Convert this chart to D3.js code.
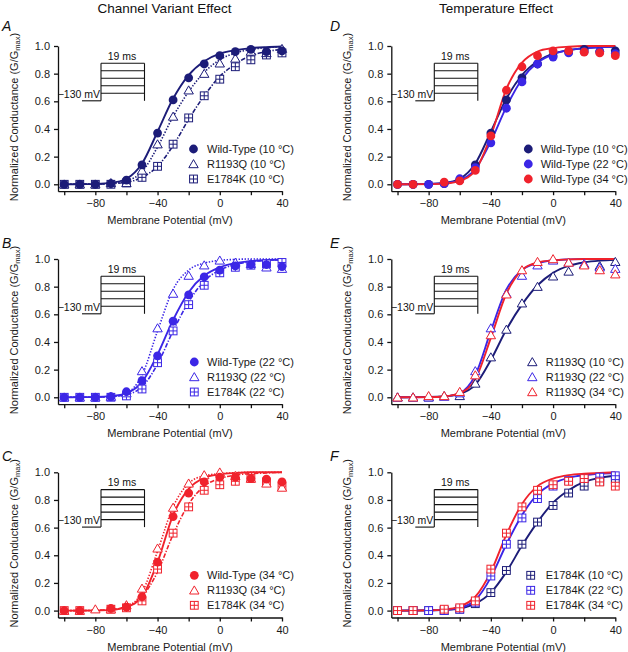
<!DOCTYPE html>
<html><head><meta charset="utf-8">
<script src="https://cdn.jsdelivr.net/npm/d3@7/dist/d3.min.js"></script>
<style>
html,body{margin:0;padding:0;background:#fff;}
svg{display:block;font-family:"Liberation Sans",Arial,Helvetica,sans-serif;}
</style></head>
<body><svg id="chart" width="628" height="652"></svg>
<script>
// ---------- DATA ----------
const voltages = [-100,-90,-80,-70,-60,-50,-40,-30,-20,-10,0,10,20,30,40];
const xTicks = [-100,-80,-60,-40,-20,0,20,40];
const xTickLabels = [-80,-40,0,40];
const yTicks = [0,0.2,0.4,0.6,0.8,1.0];

// measured normalized conductance
const wt10 = [0,0,0,0.005,0.03,0.14,0.37,0.61,0.77,0.87,0.93,0.96,0.975,0.96,0.965];
const r10  = [0,0,0,0.01,0.01,0.10,0.29,0.49,0.68,0.80,0.875,0.91,0.96,0.95,0.98];
const e10  = [0,0,0,0,0.01,0.05,0.13,0.29,0.48,0.64,0.76,0.85,0.90,0.935,0.95];
const wt22 = [0,0,0,0.005,0.04,0.12,0.30,0.55,0.74,0.87,0.92,0.95,0.96,0.96,0.945];
const r22  = [0,0,0,0.005,0.03,0.19,0.50,0.75,0.88,0.955,0.99,0.975,0.965,0.94,0.93];
const e22  = [0,0,0,0,0.01,0.06,0.25,0.48,0.67,0.81,0.90,0.94,0.955,0.965,0.975];
const wt34 = [0,0,null,0.015,0.025,0.10,0.35,0.68,0.85,0.93,0.965,0.965,0.955,0.95,0.93];
const r34  = [0,0,0.01,0.01,0.04,0.16,0.45,0.745,0.92,0.98,1.0,0.975,0.955,0.92,0.89];
const e34  = [0,0,null,0.01,0.02,0.07,0.30,0.56,0.75,0.87,0.91,0.935,0.955,0.93,0.90];

// fitted curves at the same voltages
const fitWt10 = [0,0.001,0.003,0.01,0.04,0.15,0.38,0.62,0.79,0.89,0.945,0.97,0.985,0.992,0.996];
const fitR10  = [0,0.001,0.002,0.007,0.025,0.09,0.27,0.49,0.67,0.81,0.90,0.95,0.975,0.988,0.994];
const fitE10  = [0,0.001,0.002,0.005,0.015,0.05,0.13,0.28,0.47,0.64,0.78,0.87,0.93,0.96,0.975];
const fitWt22 = [0,0.001,0.002,0.008,0.03,0.11,0.31,0.56,0.76,0.88,0.94,0.97,0.985,0.992,0.996];
const fitR22  = [0,0,0.001,0.005,0.03,0.16,0.48,0.78,0.92,0.97,0.99,0.997,1,1,1];
const fitE22  = [0,0,0.001,0.005,0.02,0.075,0.24,0.48,0.69,0.84,0.92,0.96,0.98,0.99,0.995];
const fitWt34 = [0,0,0.001,0.005,0.025,0.10,0.35,0.69,0.88,0.96,0.985,0.995,1,1,1];
const fitR34  = [0,0,0.001,0.006,0.03,0.13,0.43,0.75,0.92,0.975,0.99,0.997,1,1,1];
const fitE34  = [0,0,0.002,0.007,0.03,0.10,0.28,0.55,0.77,0.90,0.955,0.98,0.99,0.995,1];

const columnTitles = ["Channel Variant Effect","Temperature Effect"];
const panelLetters = ["A","B","C","D","E","F"];

// ---------- STYLE ----------
const col = {t10:"#1c1c78", t22:"#3b26e6", t34:"#f0222c"};
const dashFor = {solid:null, dotted:"1.4,1.6", dashdot:"4.5,1.6,1.3,1.6"};

function S(label, values, fit, color, marker, dash){ return {label, values, fit, color, marker, dash}; }

const panels = [
  {letter:"A", x0:58, yTop:46, letterY:31, legX:135.5, legTx:149,
   series:[S("E1784K (10 °C)",e10,fitE10,col.t10,"square","dashdot"), S("R1193Q (10 °C)",r10,fitR10,col.t10,"tri","dotted"), S("Wild-Type (10 °C)",wt10,fitWt10,col.t10,"circle","solid")]},
  {letter:"B", x0:58, yTop:259, letterY:247.5, legX:136.3, legTx:149,
   series:[S("E1784K (22 °C)",e22,fitE22,col.t22,"square","dashdot"), S("R1193Q (22 °C)",r22,fitR22,col.t22,"tri","dotted"), S("Wild-Type (22 °C)",wt22,fitWt22,col.t22,"circle","solid")]},
  {letter:"C", x0:58, yTop:472.3, letterY:461, legX:136.3, legTx:149,
   series:[S("E1784K (34 °C)",e34,fitE34,col.t34,"square","dashdot"), S("R1193Q (34 °C)",r34,fitR34,col.t34,"tri","dotted"), S("Wild-Type (34 °C)",wt34,fitWt34,col.t34,"circle","solid")]},
  {letter:"D", x0:391.3, yTop:46, letterY:31, legX:137, legTx:149.4,
   series:[S("Wild-Type (10 °C)",wt10,fitWt10,col.t10,"circle","solid"), S("Wild-Type (22 °C)",wt22,fitWt22,col.t22,"circle","solid"), S("Wild-Type (34 °C)",wt34,fitWt34,col.t34,"circle","solid")]},
  {letter:"E", x0:391.3, yTop:259, letterY:247.5, legX:141, legTx:154.4,
   series:[S("R1193Q (10 °C)",r10,fitR10,col.t10,"tri","solid"), S("R1193Q (22 °C)",r22,fitR22,col.t22,"tri","solid"), S("R1193Q (34 °C)",r34,fitR34,col.t34,"tri","solid")]},
  {letter:"F", x0:391.3, yTop:472.3, letterY:461, legX:139.4, legTx:154.4,
   series:[S("E1784K (10 °C)",e10,fitE10,col.t10,"square","solid"), S("E1784K (22 °C)",e22,fitE22,col.t22,"square","solid"), S("E1784K (34 °C)",e34,fitE34,col.t34,"square","solid")]},
];

const svg = d3.select("#chart");
const FS = 11;

svg.append("text").attr("x",164.5).attr("y",12.5).attr("text-anchor","middle").attr("font-size",13.5).attr("fill","#111").text(columnTitles[0]);
svg.append("text").attr("x",496).attr("y",12.5).attr("text-anchor","middle").attr("font-size",13.5).attr("fill","#111").text(columnTitles[1]);

function drawMarker(g, type, color, cx, cy){
  if(type==="circle"){
    g.append("circle").attr("cx",cx).attr("cy",cy).attr("r",4.4).attr("fill",color);
  } else if(type==="tri"){
    g.append("path").attr("d",`M${cx},${cy-4.4}L${cx+4.7},${cy+3.7}L${cx-4.7},${cy+3.7}Z`)
      .attr("fill","#fff").attr("stroke",color).attr("stroke-width",1);
  } else {
    const h=3.9;
    g.append("rect").attr("x",cx-h).attr("y",cy-h).attr("width",2*h).attr("height",2*h)
      .attr("fill","#fff").attr("stroke",color).attr("stroke-width",1);
    g.append("path").attr("d",`M${cx-h},${cy}H${cx+h}M${cx},${cy-h}V${cy+h}`)
      .attr("stroke",color).attr("stroke-width",1).attr("fill","none");
  }
}

panels.forEach(p=>{
  const x = d3.scaleLinear().domain([-104,40]).range([p.x0, p.x0+224]);
  const y = d3.scaleLinear().domain([-0.05,1]).range([p.yTop+145.2, p.yTop]);
  const g = svg.append("g");
  const axisY = p.yTop+145.2;

  // axes
  const xa = g.append("g").attr("transform",`translate(0,${axisY})`)
    .call(d3.axisBottom(x).tickValues(xTicks).tickSize(4).tickSizeOuter(0).tickPadding(4.5)
      .tickFormat(d=> xTickLabels.includes(d) ? (d<0? "\u2212"+Math.abs(d) : String(d)) : ""));
  const ya = g.append("g").attr("transform",`translate(${p.x0},0)`)
    .call(d3.axisLeft(y).tickValues(yTicks).tickSize(4).tickSizeOuter(0).tickPadding(4)
      .tickFormat(d3.format(".1f")));
  [xa,ya].forEach(a=>{
    a.attr("font-family",null).attr("font-size",FS);
    a.selectAll("path,line").attr("stroke","#111").attr("stroke-width",1.3);
    a.selectAll("text").attr("fill","#1a1a1a");
  });

  // axis titles
  g.append("text").attr("x",p.x0+112).attr("y",axisY+33).attr("text-anchor","middle")
    .attr("font-size",FS).attr("fill","#1a1a1a").text("Membrane Potential (mV)");
  const yt = g.append("text").attr("transform",`translate(${p.x0-40.5},${p.yTop+71}) rotate(-90)`)
    .attr("text-anchor","middle").attr("font-size",FS).attr("fill","#1a1a1a");
  yt.append("tspan").text("Normalized Conductance (G/G");
  yt.append("tspan").attr("font-size",7.5).attr("dy",2.5).text("max");
  yt.append("tspan").attr("dy",-2.5).text(")");

  // panel letter
  g.append("text").attr("x",p.x0<100?2:330).attr("y",p.letterY).attr("font-size",14)
    .attr("font-style","italic").attr("fill","#111").text(p.letter);

  // protocol inset
  const ins = g.append("g").attr("stroke","#111").attr("stroke-width",1.1).attr("fill","none");
  const top = p.yTop+17.3, bot = p.yTop+54.8, xa1 = p.x0+43, xa2 = p.x0+86.5;
  for(let i=0;i<5;i++){ ins.append("line").attr("x1",xa1).attr("x2",xa2).attr("y1",top+i*7.5).attr("y2",top+i*7.5); }
  ins.append("line").attr("x1",p.x0+24).attr("x2",xa1).attr("y1",bot).attr("y2",bot);
  ins.append("line").attr("x1",xa1).attr("x2",xa1).attr("y1",top).attr("y2",bot);
  ins.append("line").attr("x1",xa2).attr("x2",xa2).attr("y1",top).attr("y2",bot);
  g.append("text").attr("x",p.x0+64).attr("y",p.yTop+13.5).attr("text-anchor","middle").attr("font-size",10.5).attr("fill","#111").text("19 ms");
  g.append("text").attr("x",p.x0+42).attr("y",p.yTop+51.5).attr("text-anchor","end").attr("font-size",10.5).attr("fill","#111").text("\u2212130 mV");

  // fit curves
  const line = d3.line().x((d,i)=>x(voltages[i])).y(d=>y(d)).curve(d3.curveMonotoneX);
  p.series.forEach(s=>{
    g.append("path").attr("d",line(s.fit)).attr("fill","none").attr("stroke",s.color)
      .attr("stroke-width", s.dash==="solid"?1.9:1.6)
      .attr("stroke-dasharray", dashFor[s.dash]);
  });

  // markers
  p.series.forEach(s=>{
    const mg = g.append("g");
    s.values.forEach((v,i)=>{ if(v!==null) drawMarker(mg, s.marker, s.color, x(voltages[i]), y(v)); });
  });

  // legend
  const legOrder = p.x0<100 ? p.series.slice().reverse() : p.series;
  legOrder.forEach((s,i)=>{
    const ly = p.yTop+103+i*15;
    drawMarker(g, s.marker, s.color, p.x0+p.legX, ly);
    g.append("text").attr("x",p.x0+p.legTx).attr("y",ly).attr("dy","0.36em").attr("font-size",FS)
      .attr("fill","#1a1a1a").text(s.label);
  });
});
</script></body></html>
